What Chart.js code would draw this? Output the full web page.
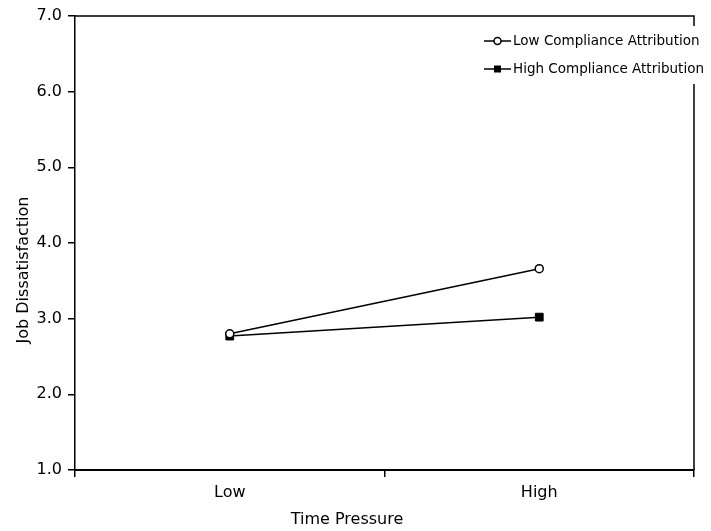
<!DOCTYPE html>
<html>
<head>
<meta charset="utf-8">
<script src="https://cdn.jsdelivr.net/npm/chart.js@4"></script>
<style>
  body { margin: 0; background: #fff; }
</style>
</head>
<body>
<canvas id="myChart" width="711" height="531"></canvas>
<script>
const categories = ["Low", "High"];
const lowCompliance = [2.80, 3.66];
const highCompliance = [2.77, 3.02];
const seriesNames = ["Low Compliance Attribution", "High Compliance Attribution"];
const xTitle = "Time Pressure";
const yTitle = "Job Dissatisfaction";

const FONT = "'DejaVu Sans', Verdana, sans-serif";

// frame on top and right, axis titles, legend inside the plot
const framePlugin = {
  id: "frame",
  afterDraw(chart) {
    const ctx = chart.ctx;
    const a = chart.chartArea;
    ctx.save();
    ctx.strokeStyle = "#000";
    ctx.lineWidth = 1.5;
    ctx.beginPath();
    ctx.moveTo(a.left, a.top);
    ctx.lineTo(a.right, a.top);
    ctx.lineTo(a.right, a.bottom);
    ctx.stroke();

    // axis titles (not centred on the axes in the original)
    ctx.fillStyle = "#000";
    ctx.font = "16px " + FONT;
    ctx.textAlign = "center";
    ctx.textBaseline = "middle";
    ctx.fillText(xTitle, 347, 520);
    ctx.save();
    ctx.translate(24, 270);
    ctx.rotate(-Math.PI / 2);
    ctx.fillText(yTitle, 0, 0);
    ctx.restore();

    // legend box
    ctx.fillStyle = "#fff";
    ctx.fillRect(480, 26, 231, 58);
    const rows = [41, 69];
    chart.data.datasets.forEach((ds, i) => {
      const y = rows[i];
      ctx.strokeStyle = "#000";
      ctx.lineWidth = 1.5;
      ctx.beginPath();
      ctx.moveTo(484, y);
      ctx.lineTo(511, y);
      ctx.stroke();
      if (ds.pointStyle === "circle") {
        ctx.beginPath();
        ctx.arc(497.5, y, 3.5, 0, Math.PI * 2);
        ctx.fillStyle = "#fff";
        ctx.fill();
        ctx.stroke();
      } else {
        ctx.fillStyle = "#000";
        ctx.fillRect(494, y - 3.5, 7, 7);
      }
      ctx.fillStyle = "#000";
      ctx.font = "13.5px " + FONT;
      ctx.textBaseline = "middle";
      ctx.textAlign = "left";
      ctx.fillText(ds.label, 513, y);
    });
    ctx.restore();
  }
};

const config = {
  type: "line",
  data: {
    labels: categories,
    datasets: [
      {
        label: seriesNames[1],
        data: highCompliance,
        borderColor: "#000",
        borderWidth: 1.5,
        pointStyle: "rect",
        pointRadius: 5.5,
        pointBackgroundColor: "#000",
        pointBorderColor: "#000",
        pointBorderWidth: 1,
        tension: 0,
        order: 2
      },
      {
        label: seriesNames[0],
        data: lowCompliance,
        borderColor: "#000",
        borderWidth: 1.5,
        pointStyle: "circle",
        pointRadius: 4,
        pointBackgroundColor: "#fff",
        pointBorderColor: "#000",
        pointBorderWidth: 1.5,
        tension: 0,
        order: 1
      }
    ]
  },
  options: {
    responsive: false,
    animation: false,
    layout: {
      padding: { top: 16, right: 17, left: 0, bottom: 0 }
    },
    plugins: {
      legend: { display: false },
      tooltip: { enabled: false }
    },
    scales: {
      x: {
        type: "category",
        offset: true,
        grid: {
          offset: true,
          drawOnChartArea: false,
          tickLength: 7,
          color: "#000",
          lineWidth: 1.5
        },
        border: { color: "#000", width: 2 },
        ticks: {
          color: "#000",
          font: { family: FONT, size: 16 },
          padding: 6
        },
        afterFit(scale) { scale.height = 61; }
      },
      y: {
        min: 1,
        max: 7,
        ticks: {
          stepSize: 1,
          color: "#000",
          font: { family: FONT, size: 16 },
          padding: 6,
          callback: (v) => Number(v).toFixed(1)
        },
        grid: {
          drawOnChartArea: false,
          tickLength: 7,
          color: "#000",
          lineWidth: 1.5
        },
        border: { color: "#000", width: 1.5 },
        afterFit(scale) { scale.width = 75; }
      }
    }
  },
  plugins: [framePlugin]
};

// legend lists the low compliance series first
config.data.datasets.sort((p, q) => seriesNames.indexOf(p.label) - seriesNames.indexOf(q.label));

new Chart(document.getElementById("myChart"), config);
</script>
</body>
</html>
